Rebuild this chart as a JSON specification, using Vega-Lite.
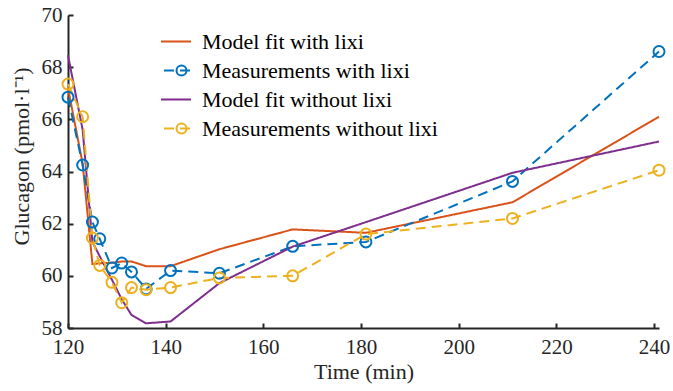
{
  "$schema": "https://vega.github.io/schema/vega-lite/v6.json",
  "width": 591,
  "height": 313,
  "autosize": {"type": "none"},
  "padding": {"left": 68, "top": 15, "right": 14, "bottom": 63},
  "background": "white",
  "config": {
    "view": {"stroke": null},
    "font": "Liberation Serif",
    "axis": {
      "grid": false,
      "domainColor": "#262626",
      "domainWidth": 2,
      "tickColor": "#262626",
      "tickWidth": 2,
      "tickSize": -5,
      "labelFont": "Liberation Serif",
      "labelFontSize": 21,
      "labelColor": "#262626",
      "labelFlush": false,
      "titleFont": "Liberation Serif",
      "titleFontSize": 22,
      "titleFontWeight": "normal",
      "titleColor": "#262626"
    }
  },
  "datasets": {
    "glu": [
      {"s": "Model fit with lixi", "t": 120, "v": 67.2},
      {"s": "Model fit with lixi", "t": 123, "v": 64.3},
      {"s": "Model fit with lixi", "t": 125, "v": 60.45},
      {"s": "Model fit with lixi", "t": 126.5, "v": 60.48},
      {"s": "Model fit with lixi", "t": 129, "v": 60.5},
      {"s": "Model fit with lixi", "t": 131, "v": 60.55},
      {"s": "Model fit with lixi", "t": 133, "v": 60.55},
      {"s": "Model fit with lixi", "t": 136, "v": 60.37},
      {"s": "Model fit with lixi", "t": 141, "v": 60.37},
      {"s": "Model fit with lixi", "t": 151, "v": 61.02},
      {"s": "Model fit with lixi", "t": 166, "v": 61.78},
      {"s": "Model fit with lixi", "t": 181, "v": 61.65},
      {"s": "Model fit with lixi", "t": 211, "v": 62.82},
      {"s": "Model fit with lixi", "t": 241, "v": 66.1},
      {"s": "Measurements with lixi", "t": 120, "v": 66.85},
      {"s": "Measurements with lixi", "t": 123, "v": 64.25},
      {"s": "Measurements with lixi", "t": 125, "v": 62.06},
      {"s": "Measurements with lixi", "t": 126.5, "v": 61.42},
      {"s": "Measurements with lixi", "t": 129, "v": 60.3},
      {"s": "Measurements with lixi", "t": 131, "v": 60.49},
      {"s": "Measurements with lixi", "t": 133, "v": 60.15},
      {"s": "Measurements with lixi", "t": 136, "v": 59.5},
      {"s": "Measurements with lixi", "t": 141, "v": 60.2},
      {"s": "Measurements with lixi", "t": 151, "v": 60.1},
      {"s": "Measurements with lixi", "t": 166, "v": 61.13},
      {"s": "Measurements with lixi", "t": 181, "v": 61.3},
      {"s": "Measurements with lixi", "t": 211, "v": 63.62},
      {"s": "Measurements with lixi", "t": 241, "v": 68.6},
      {"s": "Model fit without lixi", "t": 120, "v": 68.45},
      {"s": "Model fit without lixi", "t": 123, "v": 65.6},
      {"s": "Model fit without lixi", "t": 125, "v": 61.3},
      {"s": "Model fit without lixi", "t": 126.5, "v": 60.75},
      {"s": "Model fit without lixi", "t": 129, "v": 59.85},
      {"s": "Model fit without lixi", "t": 131, "v": 59.1},
      {"s": "Model fit without lixi", "t": 133, "v": 58.5},
      {"s": "Model fit without lixi", "t": 136, "v": 58.18},
      {"s": "Model fit without lixi", "t": 141, "v": 58.25},
      {"s": "Model fit without lixi", "t": 151, "v": 59.72},
      {"s": "Model fit without lixi", "t": 166, "v": 61.12},
      {"s": "Model fit without lixi", "t": 181, "v": 62.06},
      {"s": "Model fit without lixi", "t": 211, "v": 63.95},
      {"s": "Model fit without lixi", "t": 241, "v": 65.15},
      {"s": "Measurements without lixi", "t": 120, "v": 67.35},
      {"s": "Measurements without lixi", "t": 123, "v": 66.1},
      {"s": "Measurements without lixi", "t": 125, "v": 61.45},
      {"s": "Measurements without lixi", "t": 126.5, "v": 60.4},
      {"s": "Measurements without lixi", "t": 129, "v": 59.75},
      {"s": "Measurements without lixi", "t": 131, "v": 58.97},
      {"s": "Measurements without lixi", "t": 133, "v": 59.55},
      {"s": "Measurements without lixi", "t": 136, "v": 59.47},
      {"s": "Measurements without lixi", "t": 141, "v": 59.55},
      {"s": "Measurements without lixi", "t": 151, "v": 59.92},
      {"s": "Measurements without lixi", "t": 166, "v": 60.0},
      {"s": "Measurements without lixi", "t": 181, "v": 61.6},
      {"s": "Measurements without lixi", "t": 211, "v": 62.2},
      {"s": "Measurements without lixi", "t": 241, "v": 64.05}
    ]
  },
  "data": {"name": "glu"},
  "layer": [
    {
      "mark": {"type": "line", "strokeWidth": 2},
      "encoding": {
        "x": {
          "field": "t", "type": "quantitative",
          "scale": {"domain": [120, 241], "nice": false, "zero": false},
          "axis": {"values": [120, 140, 160, 180, 200, 220, 240], "title": "Time (min)", "labelPadding": 13, "titlePadding": 4}
        },
        "y": {
          "field": "v", "type": "quantitative",
          "scale": {"domain": [58, 70], "nice": false, "zero": false},
          "axis": {"values": [58, 60, 62, 64, 66, 68, 70], "title": "Glucagon (pmol·l⁻¹)", "labelPadding": 11, "titlePadding": 8, "titleY": 141}
        },
        "color": {
          "field": "s", "type": "nominal",
          "scale": {
            "domain": ["Model fit with lixi", "Measurements with lixi", "Model fit without lixi", "Measurements without lixi"],
            "range": ["#D95319", "#0072BD", "#7E2F8E", "#EDB120"]
          },
          "legend": {
            "orient": "none", "legendX": 82, "legendY": 15.5, "title": null,
            "symbolType": "M0,0H6", "symbolSize": 100, "symbolStrokeWidth": 2, "symbolDashOffset": 13,
            "labelOffset": 30, "labelFont": "Liberation Serif", "labelFontSize": 22, "labelColor": "#000000", "labelLimit": 0,
            "rowPadding": 7, "padding": 0
          }
        },
        "strokeDash": {
          "field": "s", "type": "nominal",
          "scale": {
            "domain": ["Model fit with lixi", "Measurements with lixi", "Model fit without lixi", "Measurements without lixi"],
            "range": [[1, 0], [10, 6], [1, 0], [10, 6]]
          },
          "legend": null
        },
        "order": {"field": "t", "type": "quantitative"}
      }
    },
    {
      "mark": {"type": "point", "shape": "circle", "filled": false, "size": 121, "strokeWidth": 2, "opacity": 1},
      "encoding": {
        "x": {"field": "t", "type": "quantitative"},
        "y": {"field": "v", "type": "quantitative"},
        "stroke": {
          "field": "s", "type": "nominal",
          "sort": ["Model fit with lixi", "Measurements with lixi", "Model fit without lixi", "Measurements without lixi"],
          "scale": {"range": ["transparent", "#0072BD", "transparent", "#EDB120"]},
          "legend": {
            "orient": "none", "legendX": 102.5, "legendY": 15.5, "title": null,
            "symbolType": "circle", "symbolSize": 100, "symbolStrokeWidth": 2,
            "labelExpr": "' '",
            "labelOffset": 30, "labelFont": "Liberation Serif", "labelFontSize": 22, "labelOpacity": 0, "labelLimit": 0,
            "rowPadding": 7, "padding": 0
          }
        }
      }
    }
  ]
}
